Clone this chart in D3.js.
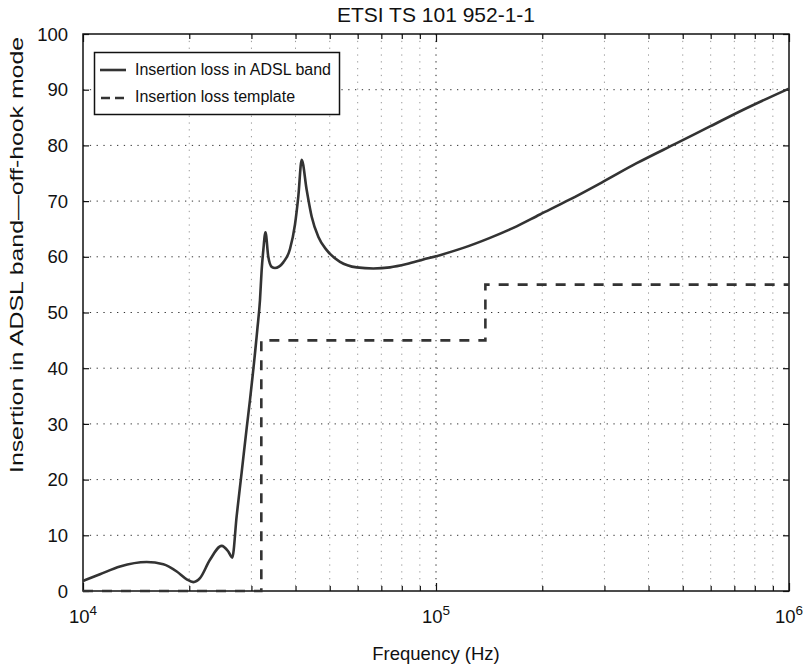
<!DOCTYPE html>
<html><head><meta charset="utf-8">
<script src="https://cdn.jsdelivr.net/npm/d3@7"></script>
<style>body{margin:0;background:#fff}svg{display:block}text{font-family:"Liberation Sans",Arial,sans-serif;fill:#111}</style>
</head><body><svg id="c" width="809" height="668"></svg>
<script>
const freqs = [10000,11170,12730,15150,16890,18430,19670,20540,21450,22890,24710,25790,26480,27250,28150,29090,29720,31170,31720,32070,32420,32880,33490,34240,34990,36930,38580,39860,40730,41640,43020,44450,46400,49020,53460,59630,66440,74070,82600,92050,102600,119500,142200,165600,197000,239700,297800,370300,480800,597300,742300,1000000];
const loss = [1.8,3.0,4.4,5.2,4.8,3.5,2.1,1.6,2.3,5.6,8.1,7.1,6.0,13.5,21.3,29.3,34.3,46.9,52.2,57.6,61.2,64.4,60.0,58.2,58.0,59.0,61.4,65.8,70.8,77.4,72.0,67.2,63.6,61.2,59.1,58.1,57.9,58.1,58.7,59.5,60.3,61.6,63.4,65.2,67.6,70.3,73.5,76.8,80.4,83.4,86.4,90.2];
const templFreqs = [10000,32000,32000,138000,138000,1000000];
const templLoss = [0,0,45,45,55,55];
const yTicks = [0,10,20,30,40,50,60,70,80,90,100];
const xMajor = [10000,100000,1000000];
const xExponents = ["4","5","6"];
const title = "ETSI TS 101 952-1-1";
const xLabel = "Frequency (Hz)";
const yLabel = "Insertion in ADSL band\u2014off-hook mode";
const legendLabels = ["Insertion loss in ADSL band","Insertion loss template"];

const svg = d3.select("#c");
const L=83,R=789,T=34,B=591;
const x = d3.scaleLog().domain([1e4,1e6]).range([L,R]);
const y = d3.scaleLinear().domain([0,100]).range([B,T]);

const minor=[];
for(let d=1e4; d<1e6; d*=10) for(let k=2;k<=9;k++) minor.push(d*k);

const g = svg.append("g");
// grid
g.selectAll(".gxm").data(minor).join("line")
 .attr("x1",d=>x(d)).attr("x2",d=>x(d)).attr("y1",T).attr("y2",B)
 .attr("stroke","#999").attr("stroke-width",1).attr("stroke-dasharray","1.3,5.5");
g.selectAll(".gxM").data([1e5]).join("line")
 .attr("x1",d=>x(d)).attr("x2",d=>x(d)).attr("y1",T).attr("y2",B)
 .attr("stroke","#222").attr("stroke-width",1).attr("stroke-dasharray","1.3,5.5");
g.selectAll(".gy").data(yTicks.slice(1,-1)).join("line")
 .attr("x1",L).attr("x2",R).attr("y1",d=>y(d)).attr("y2",d=>y(d))
 .attr("stroke","#333").attr("stroke-width",1).attr("stroke-dasharray","1.3,5.5");

// axes with inward ticks
const axB = d3.axisBottom(x).tickValues(minor).tickSize(-5).tickFormat("");
const axT = d3.axisTop(x).tickValues(minor).tickSize(-5).tickFormat("");
const axBM = d3.axisBottom(x).tickValues(xMajor).tickSize(-8).tickFormat("");
const axTM = d3.axisTop(x).tickValues(xMajor).tickSize(-8).tickFormat("");
const axL = d3.axisLeft(y).tickValues(yTicks).tickSize(-6).tickFormat("");
const axR = d3.axisRight(y).tickValues(yTicks).tickSize(-6).tickFormat("");
[[axB,`translate(0,${B})`],[axT,`translate(0,${T})`],[axBM,`translate(0,${B})`],[axTM,`translate(0,${T})`],[axL,`translate(${L},0)`],[axR,`translate(${R},0)`]].forEach(([a,t])=>{
  const gg=svg.append("g").attr("transform",t).call(a);
  gg.select(".domain").remove();
  gg.selectAll("line").attr("stroke","#111").attr("stroke-width",1.2);
});
svg.append("rect").attr("x",L).attr("y",T).attr("width",R-L).attr("height",B-T)
 .attr("fill","none").attr("stroke","#111").attr("stroke-width",1.5);

// tick labels
svg.selectAll(".yl").data(yTicks).join("text")
 .attr("x",L-15).attr("y",d=>y(d)).attr("dy","0.36em").attr("text-anchor","end")
 .style("font-size","18.5px").text(d=>d);
const xl = svg.selectAll(".xl").data(xMajor).join("text")
 .attr("x",d=>x(d)).attr("y",623).attr("text-anchor","middle").style("font-size","18.5px");
xl.append("tspan").text("10");
xl.append("tspan").attr("dy",-8).style("font-size","13.5px").text((d,i)=>xExponents[i]);

// template line
const tData = templFreqs.map((f,i)=>[f,templLoss[i]]);
svg.append("path").datum(tData)
 .attr("d",d3.line().x(d=>x(d[0])).y(d=>y(d[1])))
 .attr("fill","none").attr("stroke","#333").attr("stroke-width",2.6).attr("stroke-dasharray","10,9");
// loss curve
const lData = freqs.map((f,i)=>[f,loss[i]]);
svg.append("path").datum(lData)
 .attr("d",d3.line().x(d=>x(d[0])).y(d=>y(d[1])).curve(d3.curveMonotoneX))
 .attr("fill","none").attr("stroke","#333").attr("stroke-width",2.6).attr("stroke-linejoin","round");

// legend
svg.append("rect").attr("x",94.5).attr("y",52.5).attr("width",245).attr("height",62)
 .attr("fill","#fff").attr("stroke","#111").attr("stroke-width",1.5);
svg.append("line").attr("x1",100).attr("x2",126).attr("y1",70).attr("y2",70).attr("stroke","#333").attr("stroke-width",2.6);
svg.append("line").attr("x1",101).attr("x2",126).attr("y1",98).attr("y2",98).attr("stroke","#333").attr("stroke-width",2.6).attr("stroke-dasharray","9,5");
svg.selectAll(".lg").data(legendLabels).join("text")
 .attr("x",135).attr("y",(d,i)=>75+i*27).style("font-size","16px").text(d=>d);

// titles
svg.append("text").attr("x",(L+R)/2).attr("y",22).attr("text-anchor","middle").style("font-size","21px").text(title);
svg.append("text").attr("x",(L+R)/2).attr("y",660).attr("text-anchor","middle").style("font-size","18.5px").text(xLabel);
svg.append("text").attr("transform",`translate(23,255) rotate(-90)`).attr("text-anchor","middle")
 .style("font-size","18px").attr("textLength",436).attr("lengthAdjust","spacingAndGlyphs").text(yLabel);
</script></body></html>
